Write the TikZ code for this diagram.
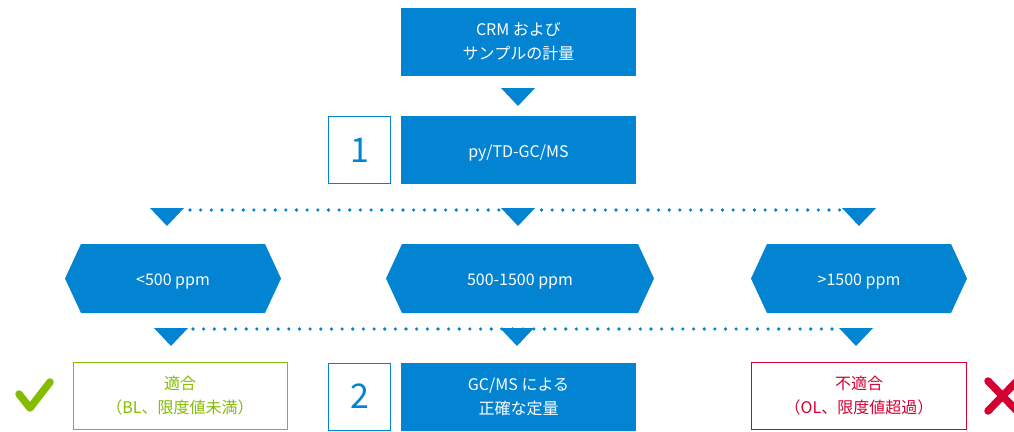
\documentclass[tikz,border=0pt]{standalone}
\usepackage{fontspec}
\setmainfont{Noto Sans CJK JP}
\usetikzlibrary{calc}
\definecolor{flowblue}{HTML}{0284D3}
\definecolor{okgreen}{HTML}{84BD00}
\definecolor{ngred}{HTML}{D50032}
% single-line labels sit a little lower in their boxes
\newcommand{\lowtext}[1]{\raisebox{-3pt}[\height][\depth]{#1}}

\begin{document}
\begin{tikzpicture}[x=1pt,y=-1pt,
  txt/.style={font=\fontsize{16}{24}\selectfont, align=center, inner sep=0pt},
  stepbox/.style={txt, fill=flowblue, text=white, minimum width=235pt, minimum height=68pt},
  numbox/.style={draw=flowblue, line width=1pt, fill=white, text=flowblue, minimum width=62pt, minimum height=67pt, inner sep=0pt, font=\fontsize{34}{34}\selectfont},
  resultbox/.style={txt, draw=#1, line width=1pt, fill=white, text=#1, minimum width=214pt, minimum height=67pt},
  hexnode/.style={txt, text=white, minimum height=69pt,
    path picture={\fill[flowblue]
      (path picture bounding box.west)
      -- ($(path picture bounding box.north west)+(16,0)$)
      -- ($(path picture bounding box.north east)+(-16,0)$)
      -- (path picture bounding box.east)
      -- ($(path picture bounding box.south east)+(-16,0)$)
      -- ($(path picture bounding box.south west)+(16,0)$) -- cycle;}},
  dotline/.style={flowblue, line width=3.6pt, line cap=round, dash pattern=on 0pt off 10.65pt},
  droptri/.pic={\fill[flowblue] (-17,0) -- (17,0) -- (0,18) -- cycle;}
]
\useasboundingbox (0,0) rectangle (1014,431);

% main steps
\node[stepbox] (weigh) at (518.5,42) {CRM および\\サンプルの計量};
\node[stepbox] (screen) at (518.5,150) {\lowtext{py/TD-GC/MS}};
\node[numbox] (n1) at (359.5,150) {1};

% arrow between the first two steps
\coordinate (a0) at (518,88);
\pic at (a0) {droptri};

% branching row above the concentration ranges
\coordinate (bl) at (167,208);
\coordinate (bm) at (518,208);
\coordinate (br) at (859,208);
\coordinate (dl) at (190,210);
\coordinate (dr) at (841,210);
\draw[dotline] (dl) -- (dr);
\pic at (bl) {droptri};
\pic at (bm) {droptri};
\pic at (br) {droptri};

% concentration ranges
\node[hexnode, minimum width=216pt] (low) at (173,278.5) {\lowtext{<500 ppm}};
\node[hexnode, minimum width=268pt] (mid) at (520,278.5) {\lowtext{500-1500 ppm}};
\node[hexnode, minimum width=216pt] (high) at (859,278.5) {\lowtext{>1500 ppm}};

% branching row below the concentration ranges
\coordinate (cl) at (171,328);
\coordinate (cm) at (517,328);
\coordinate (cr) at (856,328);
\coordinate (el) at (193,329);
\coordinate (er) at (837,329);
\draw[dotline] (el) -- (er);
\pic at (cl) {droptri};
\pic at (cm) {droptri};
\pic at (cr) {droptri};

% outcomes
\node[resultbox=okgreen] (pass) at (180,396) {適合\\（BL、限度値未満）};
\node[stepbox] (quant) at (518.5,396.5) {GC/MS による\\正確な定量};
\node[numbox] (n2) at (359.5,396.5) {2};
\node[resultbox=ngred, minimum width=215pt] (fail) at (859,396) {不適合\\（OL、限度値超過）};

% pass / fail marks
\draw[okgreen, line width=7.5pt, line cap=round, line join=round]
  (19,394) -- (30,408) -- (50,382);
\draw[ngred, line width=7.5pt, line cap=round]
  (988,381) -- (1017,411) (988,411) -- (1017,381);
\end{tikzpicture}
\end{document}
